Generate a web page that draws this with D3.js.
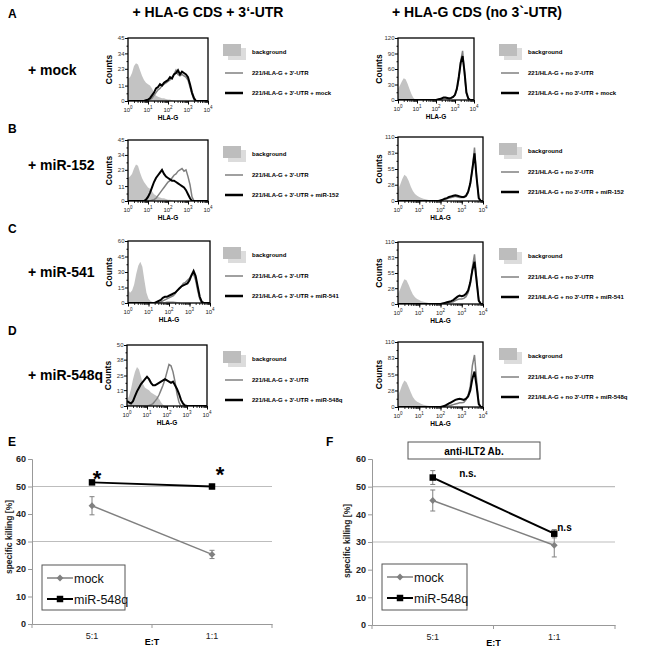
<!DOCTYPE html>
<html><head><meta charset="utf-8">
<script src="https://cdn.jsdelivr.net/npm/d3@7"></script>
<style>body{margin:0;background:#fff} svg{display:block;font-family:"Liberation Sans",Arial,sans-serif}</style>
</head><body><svg id="c" width="648" height="655"></svg>
<script>
// ================= DATA =================
const columnTitles = ["+ HLA-G CDS + 3\u2018-UTR", "+ HLA-G CDS (no 3`-UTR)"];
const rowLetters = ["A", "B", "C", "D"];
const rowLabels = ["+ mock", "+ miR-152", "+ miR-541", "+ miR-548q"];
const treatments = ["mock", "miR-152", "miR-541", "miR-548q"];

// histogram bins: log10(HLA-G fluorescence)
const hlaExponents = [0,0.1,0.2,0.3,0.4,0.5,0.6,0.7,0.8,0.9,
  1,1.1,1.2,1.3,1.4,1.5,1.6,1.7,1.8,1.9,
  2,2.1,2.2,2.3,2.4,2.5,2.6,2.7,2.8,2.9,
  3,3.1,3.2,3.3,3.4,3.5,3.6,3.7,3.8,3.9,4];
const decadeTicks = [1, 10, 100, 1000, 10000];
const decadeExpLabels = ["0", "1", "2", "3", "4"];

// y ticks of each histogram (Counts)
const countTicksA_L = [0, 11, 23, 34, 45];
const countTicksA_R = [0, 30, 60, 90, 120];
const countTicksB_L = [0, 11, 23, 34, 45];
const countTicksB_R = [0, 28, 55, 83, 110];
const countTicksC_L = [0, 15, 30, 45, 60];
const countTicksC_R = [0, 28, 55, 83, 110];
const countTicksD_L = [0, 13, 25, 38, 50];
const countTicksD_R = [0, 28, 55, 83, 110];

// --- Row A (mock) ---
const bgA_L = [16,17,20,25,27,26,22,18,15,13, 12,11,9,6,4,3,2.5,2,2,1.5, 1,1,0.5,0,0,0,0,0,0,0, 0,0,0,0,0,0,0,0,0,0, 0];
const utrA_L = [0,0,0,0,0,0,0,0,0,0, 0.5,1,2,4,6,8,9,11,12,13, 14,15,17,19,22,19,18,19,18,17, 15,10,5,1,0,0,0,0,0,0, 0];
const trtA_L = [0,0,0,0,0,0,0,0,0,0.5, 1,2,4,6,9,10,12,11,13,14, 15,17,16,19,20,22,19,21,20,19, 17,12,6,2,0,0,0,0,0,0, 0];
const bgA_R = [22,28,36,42,40,32,22,12,5,1, 0,0,0,0,0,0,0,0,0,0, 0,0,0,0,0,0,0,0,0,0, 0,0,0,0,0,0,0,0,0,0, 0];
const utrA_R = [0,0,0,0,0,0,0,0,0,0, 0,0,0,0,0,0,0,0,0,0, 0,1,2,3,4,4,3,3,4,6, 10,20,40,75,95,50,12,2,0,0, 0];
const trtA_R = [0,0,0,0,0,0,0,0,0,0, 0,0,0,0,0,0,0,0,0,0, 0,1,2,3,5,5,4,3,4,6, 10,22,45,72,85,55,15,3,0,0, 0];
// --- Row B (miR-152) ---
const bgB_L = [17,18,20,24,27,26,21,17,14,12, 10,9,7,5,4,3,2.5,2,2,1.5, 1,1,0.5,0,0,0,0,0,0,0, 0,0,0,0,0,0,0,0,0,0, 0];
const utrB_L = [0,0,0,0,0,0,0,0,0,0, 0,0,0.5,1,2,4,6,8,10,12, 14,15,17,19,20,22,23,24,22,23, 18,12,3,0,0,0,0,0,0,0, 0];
const trtB_L = [0,0,0,0,0,0,0,0,0,1, 3,6,10,14,17,19,21,23,20,18, 17,16,15,15,14,13,12,11,10,8, 5,2,0,0,0,0,0,0,0,0, 0];
const bgB_R = [20,28,38,45,42,35,25,17,12,9, 7,5,4,3,2,1.5,1,1,0.5,0.5, 0.5,0,0,0,0,0,0,0,0,0, 0,0,0,0,0,0,0,0,0,0, 0];
const utrB_R = [0,0,0,0,0,0,0,0,0,0, 0,0,0,0,0,0,0,0,0,0, 1,2,3,4,5,6,7,8,7,6, 6,6,8,14,28,55,92,40,5,0, 0];
const trtB_R = [0,0,0,0,0,0,0,0,0,0, 0,0,0,0,0,0,0,0,0,0, 1,2,4,5,7,8,9,10,9,8, 7,7,9,16,30,55,82,40,5,0, 0];
// --- Row C (miR-541) ---
const bgC_L = [13,10,12,18,28,36,40,35,22,10, 4,2,1,1,1,1,1,1,1,2, 2,2,2,1.5,1,0.5,0,0,0,0, 0,0,0,0,0,0,0,0,0,0, 0];
const utrC_L = [0,0,0,0,0,0,0,0,0,0, 0,0,0,0,0,0.5,1,2,3,4, 5,6,7,9,12,14,16,19,20,22, 24,27,28,22,12,4,0,0,0,0, 0];
const trtC_L = [0,0,0,0,0,0,0,0,0,0, 0,0,0,0,1,2,3,5,6,6, 7,8,9,10,12,14,16,17,18,19, 22,27,31,26,16,6,1,0,0,0, 0];
const bgC_R = [18,26,36,44,42,34,25,17,12,9, 7,5,4,3,2,1.5,1,1,0.5,0.5, 0.5,0,0,0,0,0,0,0,0,0, 0,0,0,0,0,0,0,0,0,0, 0];
const utrC_R = [0,0,0,0,0,0,0,0,0,0, 0,0,0,0,0,0,0,0,0,0, 0,1,1,2,2,3,4,6,8,9, 9,10,13,20,35,65,88,45,6,0, 0];
const trtC_R = [0,0,0,0,0,0,0,0,0,0, 0,0,0,0,0,0,0,0,0,0, 0,1,2,3,4,5,7,10,13,15, 14,15,18,24,38,60,75,40,6,0, 0];
// --- Row D (miR-548q) ---
const bgD_L = [5,8,14,22,28,32,30,24,18,15, 14,13,11,10,9,8,6,3,1,0, 0,0,0,0,0,0,0,0,0,0, 0,0,0,0,0,0,0,0,0,0, 0];
const utrD_L = [0,0,0,0,0,0,0,0,0,0, 0,0.5,1,2,4,6,9,13,17,22, 28,34,33,28,20,10,3,0,0,0, 0,0,0,0,0,0,0,0,0,0, 0];
const trtD_L = [4,3,2,4,8,12,15,18,20,22, 24,22,19,17,17,18,19,20,21,22, 21,20,19,20,17,14,10,5,2,0.5, 0,0,0,0,0,0,0,0,0,0, 0];
const bgD_R = [20,28,38,45,42,34,25,17,12,9, 7,5,4,3,2,1.5,1,1,0.5,0.5, 0.5,0,0,0,0,0,0,0,0,0, 0,0,0,0,0,0,0,0,0,0, 0];
const utrD_R = [0,0,0,0,0,0,0,0,0,0, 0,0,0,0,0,0,0,0,0,0, 0,1,1,2,2,3,4,5,6,7, 7,8,12,20,35,70,88,45,6,0, 0];
const trtD_R = [0,0,0,0,0,0,0,0,0,0, 0,0,0,0,0,0,0,0,0,0, 0,1,2,4,6,8,10,12,13,14, 13,12,14,18,28,48,60,35,5,0, 0];

// killing assays (E, F)
const ratioCats = ["5:1", "1:1"];
const killTicks = [0, 10, 20, 30, 40, 50, 60];
const killGrid = [30, 50];
const seriesNames = ["mock", "miR-548q"];
const killE_mock = [43, 25.3];
const killE_mockErr = [3.3, 1.5];
const killE_mir = [51.5, 50];
const killE_mirErr = [0.5, 0.8];
const sigE = ["*", "*"];
const killF_mock = [45, 28.8];
const killF_mockErr = [3.8, 4.2];
const killF_mir = [53.3, 33];
const killF_mirErr = [2.5, 1.5];
const sigF = ["n.s.", "n.s"];

// ================= DRAW =================
const svg = d3.select("#c");
svg.append("rect").attr("width", 648).attr("height", 655).attr("fill", "#fff");

const GREY_FILL = "#c3c3c3", GREY_LINE = "#808080", BLACK = "#000";

// column titles
svg.append("text").attr("x", 208).attr("y", 17).attr("text-anchor", "middle")
  .attr("font-size", 14).attr("font-weight", "bold").text(columnTitles[0]);
svg.append("text").attr("x", 477).attr("y", 17).attr("text-anchor", "middle")
  .attr("font-size", 14).attr("font-weight", "bold").text(columnTitles[1]);

const rowLetterY = [18, 133, 233, 335];
const rowLabelY = [75, 170, 277, 380];
rowLetters.forEach((L, i) => {
  svg.append("text").attr("x", 8).attr("y", rowLetterY[i]).attr("font-size", 12)
    .attr("font-weight", "bold").text(L);
  svg.append("text").attr("x", 28).attr("y", rowLabelY[i]).attr("font-size", 14)
    .attr("font-weight", "bold").text(rowLabels[i]);
});

const histRows = [
  {L: {x0:128, x1:208, y0:38, y1:101, ticks: countTicksA_L, bg: bgA_L, utr: utrA_L, trt: trtA_L},
   R: {x0:398, x1:474, y0:38, y1:100, ticks: countTicksA_R, bg: bgA_R, utr: utrA_R, trt: trtA_R}},
  {L: {x0:128, x1:208, y0:140, y1:201, ticks: countTicksB_L, bg: bgB_L, utr: utrB_L, trt: trtB_L},
   R: {x0:398, x1:483, y0:137, y1:201, ticks: countTicksB_R, bg: bgB_R, utr: utrB_R, trt: trtB_R}},
  {L: {x0:128, x1:210, y0:241, y1:303, ticks: countTicksC_L, bg: bgC_L, utr: utrC_L, trt: trtC_L},
   R: {x0:398, x1:483, y0:242, y1:304, ticks: countTicksC_R, bg: bgC_R, utr: utrC_R, trt: trtC_R}},
  {L: {x0:127, x1:207, y0:345, y1:406, ticks: countTicksD_L, bg: bgD_L, utr: utrD_L, trt: trtD_L},
   R: {x0:398, x1:483, y0:342, y1:407, ticks: countTicksD_R, bg: bgD_R, utr: utrD_R, trt: trtD_R}}
];

let clipId = 0;
function drawHist(p, legendX, legendLabels) {
  const g = svg.append("g");
  const x = d3.scaleLog().domain([decadeTicks[0], decadeTicks[decadeTicks.length - 1]]).range([p.x0, p.x1]);
  const ymax = p.ticks[p.ticks.length - 1];
  const y = d3.scaleLinear().domain([0, ymax]).range([p.y1, p.y0]);
  const id = "clip" + (clipId++);
  g.append("clipPath").attr("id", id).append("rect")
    .attr("x", p.x0).attr("y", p.y0).attr("width", p.x1 - p.x0).attr("height", p.y1 - p.y0);
  const px = (i) => x(Math.pow(10, hlaExponents[i]));
  const area = d3.area().x((d, i) => px(i)).y0(y(0)).y1(d => y(d));
  const line = d3.line().x((d, i) => px(i)).y(d => y(d));
  const inner = g.append("g").attr("clip-path", `url(#${id})`);
  inner.append("path").attr("d", area(p.bg)).attr("fill", GREY_FILL);
  inner.append("path").attr("d", line(p.utr)).attr("fill", "none").attr("stroke", GREY_LINE).attr("stroke-width", 1.5);
  inner.append("path").attr("d", line(p.trt)).attr("fill", "none").attr("stroke", BLACK).attr("stroke-width", 2);
  // frame
  g.append("rect").attr("x", p.x0).attr("y", p.y0).attr("width", p.x1 - p.x0).attr("height", p.y1 - p.y0)
    .attr("fill", "none").attr("stroke", "#000").attr("stroke-width", 1.3);
  // x axis: minor ticks
  const minor = [];
  for (let k = 0; k < decadeTicks.length - 1; k++) for (let m = 1; m < 10; m++) minor.push(decadeTicks[k] * m);
  minor.push(decadeTicks[decadeTicks.length - 1]);
  const xa = g.append("g").attr("transform", `translate(0,${p.y1})`)
    .call(d3.axisBottom(x).tickValues(minor).tickSize(2).tickFormat(""));
  xa.select(".domain").remove();
  xa.selectAll("line").attr("stroke", "#000").attr("stroke-width", 0.8);
  const xb = g.append("g").attr("transform", `translate(0,${p.y1})`)
    .call(d3.axisBottom(x).tickValues(decadeTicks).tickSize(3.5).tickFormat(""));
  xb.select(".domain").remove();
  xb.selectAll("line").attr("stroke", "#000").attr("stroke-width", 1);
  decadeTicks.forEach((v, i) => {
    const t = g.append("text").attr("x", x(v)).attr("y", p.y1 + 11).attr("text-anchor", "middle")
      .attr("font-size", 6).attr("fill", "#222");
    t.append("tspan").text("10");
    t.append("tspan").attr("dy", -3).attr("font-size", 4.5).text(decadeExpLabels[i]);
  });
  g.append("text").attr("x", (p.x0 + p.x1) / 2).attr("y", p.y1 + 19).attr("text-anchor", "middle")
    .attr("font-size", 6.5).attr("font-weight", "bold").text("HLA-G");
  // y axis
  const ya = g.append("g").attr("transform", `translate(${p.x0},0)`)
    .call(d3.axisLeft(y).tickValues(p.ticks).tickSize(3).tickFormat(d3.format("d")));
  ya.select(".domain").remove();
  ya.selectAll("line").attr("stroke", "#000");
  ya.selectAll("text").attr("font-size", 6).attr("fill", "#333").attr("x", -3.5);
  const mids = p.ticks.slice(1).map((v, i) => (v + p.ticks[i]) / 2);
  const ym = g.append("g").attr("transform", `translate(${p.x0},0)`)
    .call(d3.axisLeft(y).tickValues(mids).tickSize(1.5).tickFormat(""));
  ym.select(".domain").remove();
  ym.selectAll("line").attr("stroke", "#000");
  g.append("text").attr("transform", `translate(${p.x0 - 16},${(p.y0 + p.y1) / 2}) rotate(-90)`)
    .attr("text-anchor", "middle").attr("font-size", 8.5).attr("font-weight", "bold").text("Counts");
  // legend
  const lg = svg.append("g");
  const ty = p.y0;
  lg.append("rect").attr("x", legendX + 5).attr("y", ty + 10).attr("width", 18).attr("height", 12).attr("fill", "#dcdcdc");
  lg.append("rect").attr("x", legendX).attr("y", ty + 6).attr("width", 18).attr("height", 12).attr("fill", "#bdbdbd");
  lg.append("text").attr("x", legendX + 29).attr("y", ty + 16).attr("font-size", 6).attr("font-weight", "bold").text(legendLabels[0]);
  lg.append("line").attr("x1", legendX + 2).attr("x2", legendX + 20).attr("y1", ty + 35).attr("y2", ty + 35)
    .attr("stroke", GREY_LINE).attr("stroke-width", 1.5);
  lg.append("text").attr("x", legendX + 29).attr("y", ty + 37).attr("font-size", 6).attr("font-weight", "bold").text(legendLabels[1]);
  lg.append("line").attr("x1", legendX + 2).attr("x2", legendX + 20).attr("y1", ty + 55).attr("y2", ty + 55)
    .attr("stroke", BLACK).attr("stroke-width", 2.5);
  lg.append("text").attr("x", legendX + 29).attr("y", ty + 57).attr("font-size", 6).attr("font-weight", "bold").text(legendLabels[2]);
}

histRows.forEach((row, i) => {
  drawHist(row.L, 223, ["background", "221/HLA-G + 3'-UTR", "221/HLA-G + 3'-UTR + " + treatments[i]]);
  drawHist(row.R, 499, ["background", "221/HLA-G + no 3'-UTR", "221/HLA-G + no 3'-UTR + " + treatments[i]]);
});

// ---------- killing charts ----------
function drawKill(p) {
  const g = svg.append("g");
  const x = d3.scaleBand().domain(ratioCats).range([p.x0, p.x1]);
  const y = d3.scaleLinear().domain([killTicks[0], killTicks[killTicks.length - 1]]).range([p.yb, p.yt]);
  const cx = c => x(c) + x.bandwidth() / 2;
  // grid
  killGrid.forEach(v => g.append("line").attr("x1", p.x0).attr("x2", p.x1).attr("y1", y(v)).attr("y2", y(v))
    .attr("stroke", "#bdbdbd").attr("stroke-width", 1.2));
  // y axis
  const ya = g.append("g").attr("transform", `translate(${p.x0},0)`)
    .call(d3.axisLeft(y).tickValues(killTicks).tickSize(4));
  ya.select(".domain").attr("stroke", "#999");
  ya.selectAll("line").attr("stroke", "#999");
  ya.selectAll("text").attr("font-size", 9).attr("font-weight", "bold").attr("fill", "#222").attr("x", -6);
  // x axis
  const xa = g.append("g").attr("transform", `translate(0,${p.yb})`)
    .call(d3.axisBottom(x).tickSize(0).tickPadding(9));
  xa.select(".domain").attr("stroke", "#999");
  xa.selectAll("text").attr("font-size", 9).attr("fill", "#222");
  const edges = ratioCats.map(c => x(c)).concat([x.range()[1]]);
  edges.forEach(e => g.append("line").attr("x1", e).attr("x2", e).attr("y1", p.yb).attr("y2", p.yb + 4).attr("stroke", "#999"));
  g.append("text").attr("x", (p.x0 + p.x1) / 2).attr("y", p.yb + 21).attr("text-anchor", "middle")
    .attr("font-size", 9).attr("font-weight", "bold").text("E:T");
  g.append("text").attr("transform", `translate(${p.ylabX},${p.ylabY}) rotate(-90)`).attr("text-anchor", "middle")
    .attr("font-size", 8.5).attr("font-weight", "bold").attr("fill", "#222").text("specific killing [%]");
  // series
  const drawSeries = (vals, errs, color, width, shape) => {
    vals.forEach((v, i) => {
      const X = cx(ratioCats[i]);
      g.append("line").attr("x1", X).attr("x2", X).attr("y1", y(v - errs[i])).attr("y2", y(v + errs[i])).attr("stroke", GREY_LINE).attr("stroke-width", 1);
      [v - errs[i], v + errs[i]].forEach(e => g.append("line").attr("x1", X - 2.5).attr("x2", X + 2.5).attr("y1", y(e)).attr("y2", y(e)).attr("stroke", GREY_LINE).attr("stroke-width", 1));
    });
    g.append("path").attr("d", d3.line().x((d, i) => cx(ratioCats[i])).y(d => y(d))(vals))
      .attr("fill", "none").attr("stroke", color).attr("stroke-width", width);
    vals.forEach((v, i) => {
      const sym = d3.symbol().type(shape === "sq" ? d3.symbolSquare : d3.symbolDiamond2).size(shape === "sq" ? 42 : 30);
      g.append("path").attr("d", sym()).attr("transform", `translate(${cx(ratioCats[i])},${y(v)})`).attr("fill", color);
    });
  };
  drawSeries(p.mock, p.mockErr, GREY_LINE, 1.5, "dia");
  drawSeries(p.mir, p.mirErr, BLACK, 2, "sq");
  // significance
  p.sig.forEach((s, i) => {
    const X = cx(ratioCats[i]) + p.sigDx[i];
    const Y = y(p.mir[i] + p.mirErr[i]) + p.sigDy[i];
    g.append("text").attr("x", X).attr("y", Y).attr("text-anchor", p.sigAnchor[i])
      .attr("font-size", p.sigSize).attr("font-weight", "bold").text(s);
  });
  // legend
  const L = p.leg;
  g.append("rect").attr("x", L.x).attr("y", L.y).attr("width", L.w).attr("height", L.h)
    .attr("fill", "#fff").attr("stroke", "#555").attr("stroke-width", 1);
  const items = [{c: GREY_LINE, w: 1.5, s: "dia"}, {c: BLACK, w: 2, s: "sq"}];
  items.forEach((it, k) => {
    const yy = L.y + 13 + k * 21;
    g.append("line").attr("x1", L.x + 5).attr("x2", L.x + 31).attr("y1", yy).attr("y2", yy).attr("stroke", it.c).attr("stroke-width", it.w);
    const sym = d3.symbol().type(it.s === "sq" ? d3.symbolSquare : d3.symbolDiamond2).size(it.s === "sq" ? 42 : 30);
    g.append("path").attr("d", sym()).attr("transform", `translate(${L.x + 18},${yy})`).attr("fill", it.c);
    g.append("text").attr("x", L.x + 32).attr("y", yy + 4.5).attr("font-size", 12.5).attr("fill", "#111").text(seriesNames[k]);
  });
}

svg.append("text").attr("x", 8).attr("y", 446).attr("font-size", 12).attr("font-weight", "bold").text("E");
svg.append("text").attr("x", 326).attr("y", 446).attr("font-size", 12).attr("font-weight", "bold").text("F");

drawKill({x0: 32, x1: 272, yt: 459, yb: 624, ylabX: 12, ylabY: 537,
  mock: killE_mock, mockErr: killE_mockErr, mir: killE_mir, mirErr: killE_mirErr,
  sig: sigE, sigDx: [5, 8], sigDy: [5, -2], sigAnchor: ["middle", "middle"], sigSize: 22,
  leg: {x: 42, y: 565, w: 83, h: 45}});

drawKill({x0: 372, x1: 615, yt: 459, yb: 625, ylabX: 350, ylabY: 541,
  mock: killF_mock, mockErr: killF_mockErr, mir: killF_mir, mirErr: killF_mirErr,
  sig: sigF, sigDx: [35, 3], sigDy: [6, 1], sigAnchor: ["middle", "start"], sigSize: 10,
  leg: {x: 382, y: 564, w: 85, h: 46}});

// anti-ILT2 box
svg.append("rect").attr("x", 408).attr("y", 442).attr("width", 132).attr("height", 17)
  .attr("fill", "#fff").attr("stroke", "#555").attr("stroke-width", 1);
svg.append("text").attr("x", 474).attr("y", 454.5).attr("text-anchor", "middle").attr("font-size", 10)
  .attr("font-weight", "bold").text("anti-ILT2 Ab.");
</script></body></html>
